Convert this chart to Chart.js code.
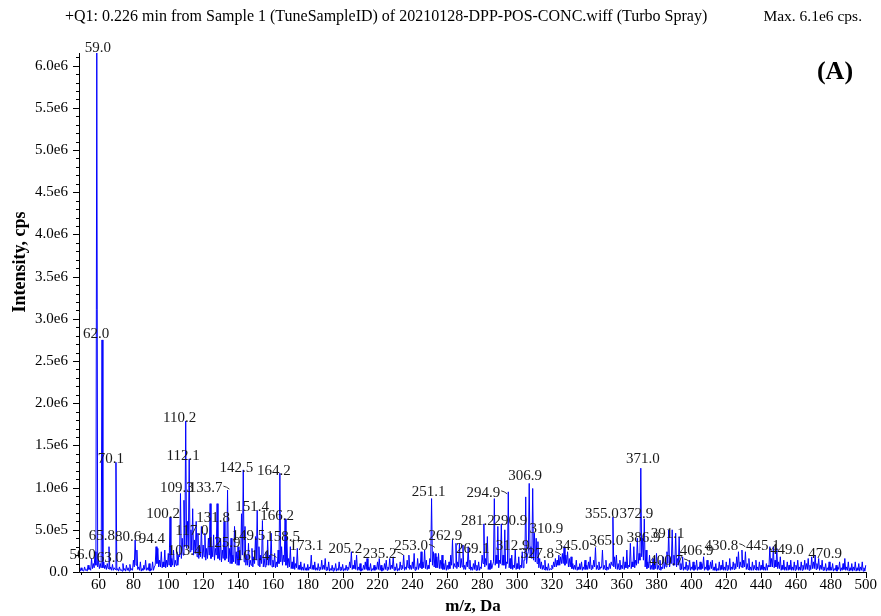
<!DOCTYPE html>
<html><head><meta charset="utf-8">
<script src="https://cdn.jsdelivr.net/npm/chart.js@4.4.1/dist/chart.umd.min.js"></script>
<style>html,body{margin:0;padding:0;background:#fff;} canvas{display:block;}</style>
</head><body>
<canvas id="c" width="881" height="616"></canvas>
<script>
const titleText = "+Q1: 0.226 min from Sample 1 (TuneSampleID) of 20210128-DPP-POS-CONC.wiff (Turbo Spray)";
const maxText = "Max. 6.1e6 cps.";
const panelTag = "(A)";
const xTitle = "m/z, Da";
const yTitle = "Intensity, cps";

// m/z of the first value; peak values at each whole m/z, intensity in units of 1e4 cps
const mzStart = 49;
const intensity1e4 = [
  3,5,2,6,3,8,5,16,10,24,
  615,14,10,275,12,8,10,30,6,9,
  5,130,4,6,3,10,4,8,5,9,
  4,14,38,26,6,12,4,8,14,5,
  10,4,12,6,30,28,14,24,12,26,
  14,22,65,16,26,14,24,20,93,40,
  85,179,60,134,50,75,38,60,46,30,
  54,32,46,28,40,81,30,44,28,81,
  34,40,26,60,30,97,28,40,20,54,
  24,30,18,69,121,54,20,34,14,28,
  18,42,73,30,20,61,16,24,38,20,
  46,14,22,12,26,117,30,20,63,42,
  16,30,12,18,10,28,8,12,6,10,
  5,9,6,20,8,12,5,10,6,14,
  8,16,6,12,4,8,5,10,4,12,
  6,9,4,8,6,12,24,8,14,20,
  6,10,4,8,12,16,6,10,4,8,
  6,12,16,8,5,10,14,6,16,8,
  18,6,10,4,12,8,20,6,14,20,
  8,12,22,6,16,10,24,12,26,14,
  8,16,87,24,22,18,22,14,20,10,
  14,8,12,20,38,10,34,12,34,16,
  32,8,12,30,14,6,10,14,8,12,
  6,20,57,16,42,10,14,8,87,20,
  54,14,57,20,50,12,95,16,20,8,
  26,10,18,8,24,14,89,20,105,30,
  99,46,40,36,16,12,8,14,6,10,
  4,8,12,16,14,20,18,22,30,20,
  24,16,18,10,8,14,6,10,12,6,
  14,8,12,18,8,14,29,8,12,6,
  26,8,14,6,10,12,65,18,20,10,
  14,8,18,12,26,8,34,12,30,14,
  40,22,123,40,63,26,12,20,8,16,
  10,22,8,14,6,18,12,24,50,14,
  50,20,46,16,42,10,18,6,12,8,
  14,6,12,8,14,6,12,10,18,6,
  14,8,12,14,6,10,4,12,8,14,
  6,12,8,16,6,12,10,18,24,12,
  26,14,24,10,16,6,12,8,14,6,
  12,8,14,6,10,8,30,16,30,14,
  28,12,18,8,14,6,12,8,14,6,
  12,8,14,6,12,8,14,10,16,8,
  18,12,20,10,16,8,14,6,10,5,
  12,6,10,4,8,6,12,5,10,16,
  6,12,5,10,6,12,5,10,6,12,
  5,8
];
// trough values half-way between whole m/z values (49.5, 50.5, ...), units of 1e4 cps
const trough1e4 = [
  1,2,1,2,1,3,2,4,5,8,
  6,4,5,5,4,3,4,3,2,2,
  3,2,1,2,1,2,1,2,1,2,
  2,6,8,3,2,1,2,3,2,2,
  1,2,2,8,10,6,6,5,6,5,
  6,8,6,8,6,8,8,18,16,20,
  30,28,30,24,26,20,22,18,16,18,
  16,18,14,16,20,16,18,14,20,16,
  14,12,16,14,16,12,10,10,12,10,
  8,8,14,20,12,8,8,6,8,6,
  10,14,8,6,10,6,6,8,8,8,
  6,6,5,6,10,12,8,12,8,5,
  6,4,4,3,5,3,3,2,2,2,
  2,2,4,3,3,2,2,2,3,3,
  3,2,2,1,2,1,2,1,2,2,
  2,1,2,2,3,5,3,4,3,2,
  2,1,2,3,3,2,2,1,2,2,
  3,3,2,1,2,3,2,3,3,4,
  2,2,1,2,3,4,2,3,5,3,
  3,4,2,3,3,5,4,5,4,3,
  4,12,8,6,5,5,4,4,3,3,
  2,3,4,8,4,6,4,6,5,6,
  3,3,6,4,2,2,3,2,2,2,
  4,10,6,8,3,3,4,12,8,10,
  5,10,8,8,4,10,5,4,3,5,
  3,4,3,5,5,14,10,24,18,16,
  14,12,10,5,4,3,3,2,2,2,
  3,4,6,6,8,8,10,10,8,10,
  6,6,4,3,3,2,3,3,2,3,
  3,3,4,3,4,6,3,3,3,5,
  3,3,2,3,4,8,6,4,3,3,
  3,4,3,5,4,6,4,6,5,8,
  10,14,18,14,6,4,5,3,3,3,
  4,3,3,2,4,4,6,10,6,10,
  8,8,6,8,3,3,2,3,2,3,
  2,3,2,3,2,3,3,4,2,3,
  2,3,4,2,2,1,2,2,3,2,
  2,2,3,2,3,3,4,6,4,6,
  5,6,3,3,2,2,2,3,2,2,
  2,3,2,2,2,6,6,6,5,6,
  4,4,2,3,2,2,2,3,2,2,
  2,3,2,2,2,3,3,3,2,3,
  4,4,3,4,2,3,2,2,1,2,
  2,2,1,2,1,3,1,2,3,2,
  2,1,2,1,2,1,2,1,2,1,
  1
];

const peakLabelText = ["56.0","59.0","62.0","63.0","65.8","70.1","80.6","94.4","100.2","103.4","109.3","110.2","112.1","117.0","125.9","131.8","133.7","142.5","149.5","151.4","158.5","161.4","164.2","166.2","173.1","205.2","235.2","251.1","253.0","262.9","269.1","281.2","290.9","294.9","306.9","310.9","312.9","327.8","345.0","355.0","365.0","371.0","372.9","386.9","391.1","400.7","406.9","430.8","445.1","449.0","470.9"];
const peakLabelMz = [56,59,62,63,66,70,81,94,101,103,109,110,112,117,126,132,134,143,150,151,159,161,164,167,174,205,235,251,253,263,269,281,291,295,307,310,313,327,345,355,365,371,373,387,391,401,407,431,445,449,471];

const xTickValues = [60,80,100,120,140,160,180,200,220,240,260,280,300,320,340,360,380,400,420,440,460,480,500];
const xTickLabels = ["60","80","100","120","140","160","180","200","220","240","260","280","300","320","340","360","380","400","420","440","460","480","500"];
const yTickValues = [0,5e5,1e6,1.5e6,2e6,2.5e6,3e6,3.5e6,4e6,4.5e6,5e6,5.5e6,6e6];
const yTickLabels = ["0.0","5.0e5","1.0e6","1.5e6","2.0e6","2.5e6","3.0e6","3.5e6","4.0e6","4.5e6","5.0e6","5.5e6","6.0e6"];

// label placement tweaks (pixels), kept apart from the data
const labelStyle = {
  "56.0":[-9,2],"59.0":[1,0],"62.0":[-6,-1],"63.0":[6,1],"65.8":[-7,-6],"70.1":[-5,2],"80.6":[-7,2],"94.4":[-6,-4],
  "100.2":[-7,2],"103.4":[11,6],"109.3":[-7,-7],"110.2":[-6,2],"112.1":[-6,2],"117.0":[-6,3],"125.9":[10,13],
  "131.8":[-11,2],"133.7":[-22,3,1],"142.5":[-7,3],"149.5":[-7,4],"151.4":[-5,2],"158.5":[12,9],"161.4":[-22,8,1],
  "164.2":[-6,3],"166.2":[-8,2],"173.1":[9,3],"205.2":[-6,2],"235.2":[-24,4,1],"251.1":[-3,-2],"253.0":[-24,-2,1],
  "262.9":[-7,1],"269.1":[10,9],"281.2":[-6,2],"290.9":[9,2],"294.9":[-25,6,1],"306.9":[-4,-2],"310.9":[12,1],
  "312.9":[-27,-7],"327.8":[-27,12,1],"345.0":[-23,3,1],"355.0":[-11,2],"365.0":[-24,3],"371.0":[2,-4],"372.9":[-8,0],
  "386.9":[-25,13],"391.1":[-8,6],"400.7":[-27,4,1],"406.9":[-7,-1],"430.8":[-24,-1,1],"445.1":[-7,4],"449.0":[10,7],"470.9":[10,4]
};

const SERIF = "'Liberation Serif','Times New Roman',serif";
const points = [];
intensity1e4.forEach((v, i) => {
  points.push({ x: mzStart + i, y: v * 1e4 });
  if (i < trough1e4.length) points.push({ x: mzStart + i + 0.5, y: trough1e4[i] * 1e4 });
});

const deco = {
  id: 'deco',
  afterDatasetsDraw(chart) {
    const { ctx, scales: { x, y }, chartArea: a } = chart;
    ctx.save();
    // peak labels
    ctx.font = "15px " + SERIF;
    ctx.fillStyle = '#1a1a1a';
    ctx.textAlign = 'center';
    ctx.textBaseline = 'alphabetic';
    peakLabelText.forEach((t, i) => {
      const m = peakLabelMz[i];
      const v = intensity1e4[m - mzStart] * 1e4;
      const st = labelStyle[t] || [0, 0];
      const px = x.getPixelForValue(m) + st[0];
      const py = y.getPixelForValue(v) - 1 + st[1];
      ctx.fillText(t, px, py);
      if (st[2]) {
        const w = ctx.measureText(t).width;
        const r = px + w / 2 + 1;
        ctx.strokeStyle = '#333'; ctx.lineWidth = 1;
        ctx.beginPath(); ctx.moveTo(r, py - 6); ctx.lineTo(r + 3, py - 5); ctx.lineTo(r + 6, py - 3); ctx.stroke();
      }
    });
    // axes
    ctx.strokeStyle = '#000'; ctx.lineWidth = 1;
    ctx.beginPath();
    ctx.moveTo(a.left + 0.5, a.top);
    ctx.lineTo(a.left + 0.5, a.bottom + 0.5);
    ctx.lineTo(a.right, a.bottom + 0.5);
    ctx.stroke();
    ctx.beginPath();
    for (let i = 0; i <= 61; i++) {
      const py = Math.round(y.getPixelForValue(i * 1e5)) + 0.5;
      const len = (i % 5 === 0) ? 6 : 3;
      ctx.moveTo(a.left - len, py); ctx.lineTo(a.left + 0.5, py);
    }
    for (let m = 50; m <= 500; m += 10) {
      const px = Math.round(x.getPixelForValue(m)) + 0.5;
      const len = (m % 20 === 0) ? 6 : 3;
      ctx.moveTo(px, a.bottom + 0.5); ctx.lineTo(px, a.bottom + len);
    }
    ctx.stroke();
    // header texts
    ctx.fillStyle = '#000';
    ctx.font = "16px " + SERIF;
    ctx.textAlign = 'left'; ctx.textBaseline = 'middle';
    ctx.fillText(titleText, 65, 17);
    ctx.font = "15.5px " + SERIF;
    ctx.textAlign = 'right';
    ctx.fillText(maxText, 862, 17);
    ctx.font = "bold 26px " + SERIF;
    ctx.textAlign = 'center';
    ctx.fillText(panelTag, 835, 72);
    ctx.font = "bold 17px " + SERIF;
    ctx.fillText(xTitle, (a.left + a.right) / 2, 607);
    ctx.save();
    ctx.translate(20, 262);
    ctx.rotate(-Math.PI / 2);
    ctx.font = "bold 18px " + SERIF;
    ctx.fillText(yTitle, 0, 0);
    ctx.restore();
    ctx.restore();
  }
};

new Chart(document.getElementById('c'), {
  type: 'line',
  data: { datasets: [{ data: points, borderColor: '#0000ff', borderWidth: 1, pointRadius: 0, fill: false, tension: 0 }] },
  options: {
    responsive: false,
    animation: false,
    layout: { padding: { left: 0, right: 5, top: 53, bottom: 0 } },
    plugins: { legend: { display: false }, tooltip: { enabled: false }, title: { display: false } },
    scales: {
      x: {
        type: 'linear', min: 48.8, max: 500.7,
        grid: { display: false, drawTicks: false }, border: { display: false },
        afterBuildTicks: s => { s.ticks = xTickValues.map(v => ({ value: v })); },
        ticks: { autoSkip: false, maxRotation: 0, minRotation: 0, padding: 4, color: '#000',
                 font: { family: SERIF, size: 15 }, callback: (v, i) => xTickLabels[i] },
        afterFit: s => { s.height = 44; }
      },
      y: {
        min: 0, max: 6.15e6,
        grid: { display: false, drawTicks: false }, border: { display: false },
        afterBuildTicks: s => { s.ticks = yTickValues.map(v => ({ value: v })); },
        ticks: { autoSkip: false, padding: 11, color: '#000',
                 font: { family: SERIF, size: 15 }, callback: (v, i) => yTickLabels[i] },
        afterFit: s => { s.width = 79; }
      }
    }
  },
  plugins: [deco]
});
</script>
</body></html>
